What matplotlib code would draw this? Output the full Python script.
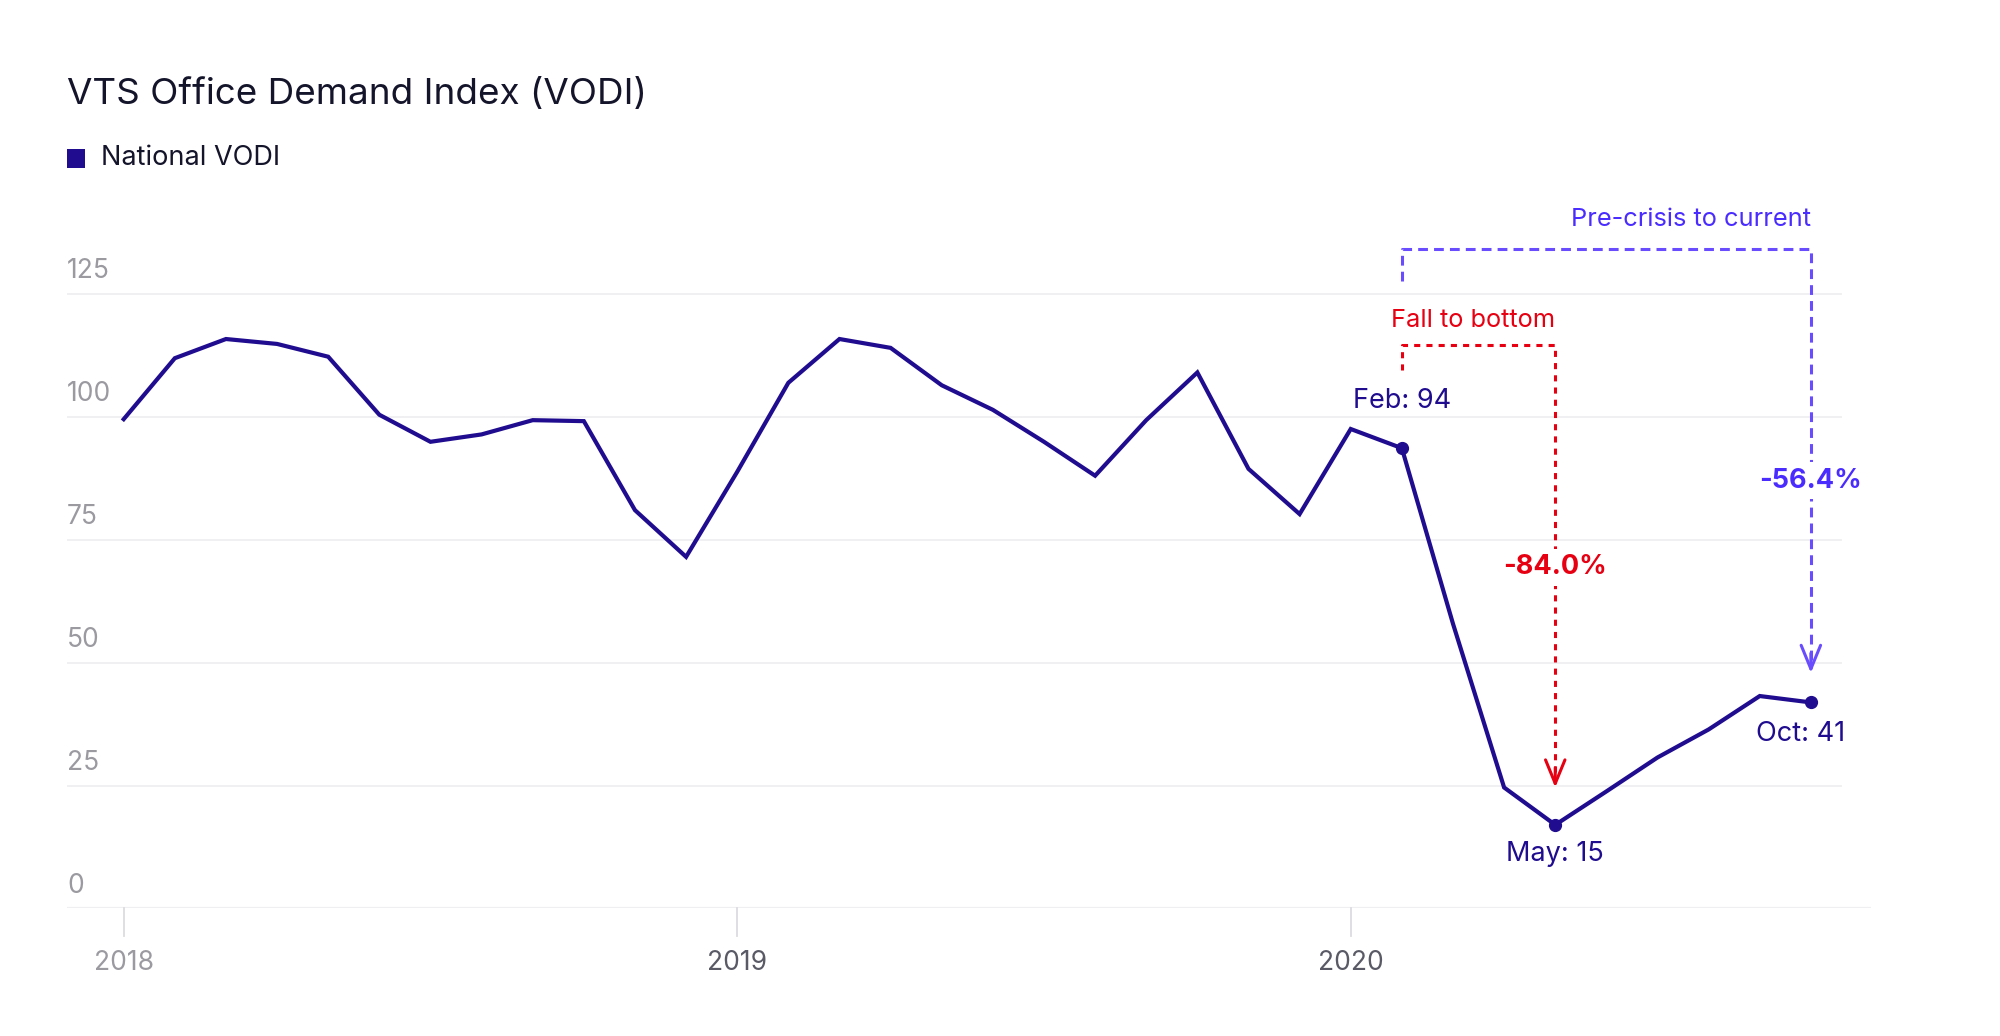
import matplotlib
matplotlib.use("Agg")
import matplotlib.pyplot as plt
from matplotlib.patches import Rectangle

plt.rcParams['font.family'] = ['Inter', 'DejaVu Sans']

# ---- data ----
months = list(range(34))  # Jan 2018 .. Oct 2020
vodi = [99.5, 111.9, 115.8, 114.8, 112.2, 100.4, 94.9, 96.4, 99.3, 99.1, 81.0, 71.5,
        88.8, 106.9, 115.8, 114.0, 106.4, 101.4, 94.9, 88.0, 99.3, 109.0, 89.4, 80.2,
        97.5, 93.6, 57.9, 24.6, 17.0, 23.8, 30.7, 36.4, 43.2, 41.9]
year_ticks = [0, 12, 24]
year_labels = ['2018', '2019', '2020']
y_ticks = [0, 25, 50, 75, 100, 125]
idx_feb, idx_may, idx_oct = 25, 28, 33
point_labels = ['Feb: 94', 'May: 15', 'Oct: 41']
fall_label, fall_pct = 'Fall to bottom', '-84.0%'
pre_label, pre_pct = 'Pre-crisis to current', '-56.4%'

LINE = '#1f0c8f'
RED = '#e60012'
VIO = '#4a2cff'
VIO_D = '#6a4cff'
GRID = '#efeff2'

fig = plt.figure(figsize=(20, 10.36), dpi=100)
ax = fig.add_axes([0.0335, 0.1231, 0.9021, 0.712])
ax.set_xlim(-1.109, 34.18)
ax.set_ylim(0, 150)
for s in ax.spines.values():
    s.set_visible(False)
ax.set_xticks([])
ax.set_yticks([])

# gridlines + y labels
for v in y_ticks:
    if v == 0:
        ax.axhline(0, color=GRID, lw=1.6, zorder=0)
    else:
        ax.plot([-1.109, 33.58], [v, v], color=GRID, lw=1.3, zorder=0)
    ax.text(0.0, v + 2.0, str(v), transform=ax.get_yaxis_transform(),
            ha='left', va='bottom', fontsize=19, color='#9a9aa0')

# x ticks
for t, lab in zip(year_ticks, year_labels):
    ax.plot([t, t], [0, -5.7], color='#dcdce0', lw=1.3, clip_on=False)
    ax.text(t, -11, lab, ha='center', va='center', fontsize=19,
            color='#9a9aa0' if t == 0 else '#5a5a66')

# main line
ax.plot(months, vodi, color=LINE, lw=3.0, solid_joinstyle='miter', zorder=5)
for i in (idx_feb, idx_may, idx_oct):
    ax.plot(months[i], vodi[i], 'o', color=LINE, ms=8.5, zorder=6)

# point labels
ax.text(months[idx_feb], 103.2, point_labels[0], ha='center', va='center', fontsize=19.5, color=LINE)
ax.text(months[idx_may], 11.0, point_labels[1], ha='center', va='center', fontsize=19.5, color=LINE)
ax.text(months[idx_oct] - 0.2, 35.4, point_labels[2], ha='center', va='center', fontsize=19.5, color=LINE)

def bracket(x0, x1, ytop, ystub, ytip, color, tcolor, dash, label, pct, ylab, ypct):
    ax.plot([x0, x0, x1, x1], [ystub, ytop, ytop, ytip + 1], color=color, lw=2.2,
            dashes=dash, clip_on=False, zorder=3)
    ax.annotate('', xy=(x1, ytip), xytext=(x1, ytip + 4),
                arrowprops=dict(arrowstyle='->,head_length=0.85,head_width=0.35',
                                color=color, lw=2.2, mutation_scale=20,
                                shrinkA=0, shrinkB=0),
                zorder=4, annotation_clip=False)
    ax.text(x1, ylab, label, ha='right', va='center', fontsize=18.3, color=tcolor)
    ax.text(x1, ypct, pct, ha='center', va='center', fontsize=19.5, color=tcolor,
            fontweight='bold', zorder=6,
            bbox=dict(facecolor='white', edgecolor='none', pad=4))

bracket(months[idx_feb], months[idx_may], 114.5, 109.5, vodi[idx_may] + 7.6,
        RED, RED, (2.0, 2.0), fall_label, fall_pct, 119.5, 69.4)
bracket(months[idx_feb], months[idx_oct], 134.2, 127.6, vodi[idx_oct] + 6.0,
        VIO_D, VIO, (3.2, 2.0), pre_label, pre_pct, 140.2, 87.0)

# title + legend
fig.text(0.0335, 1 - 73 / 804, 'VTS Office Demand Index (VODI)', ha='left', va='center',
         fontsize=26.5, color='#14142b', fontweight='normal')
fig.patches.append(Rectangle((52 / 1552, 1 - 130 / 804), 14 / 1552, 14 / 804,
                             transform=fig.transFigure, facecolor=LINE, edgecolor='none'))
fig.text(78 / 1552, 1 - 123 / 804, 'National VODI', ha='left', va='center',
         fontsize=19.5, color='#14142b')

fig.savefig('out.png', dpi=100, facecolor='white')
